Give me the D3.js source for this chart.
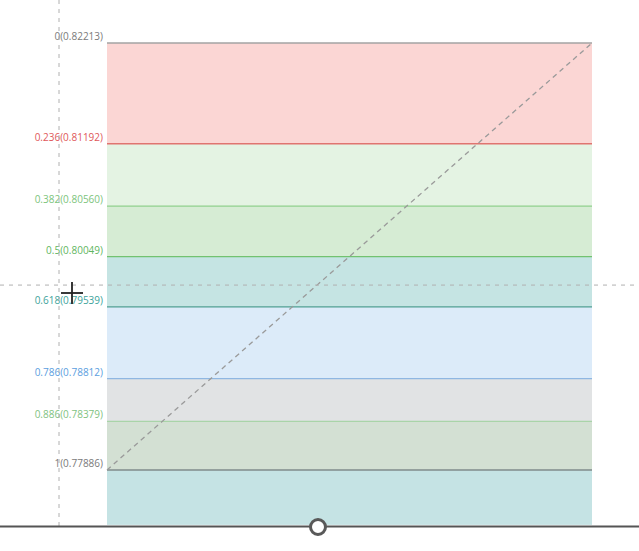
<!DOCTYPE html>
<html>
<head>
<meta charset="utf-8">
<script src="https://cdn.jsdelivr.net/npm/d3@7/dist/d3.min.js"></script>
<style>
  html, body { margin: 0; padding: 0; background: #ffffff; }
  svg { display: block; }
</style>
</head>
<body>
<svg id="chart" width="639" height="551"></svg>
<script>
// ---- data ----
const levels = [0, 0.236, 0.382, 0.5, 0.618, 0.786, 0.886, 1];
const prices = [0.82213, 0.81192, 0.80560, 0.80049, 0.79539, 0.78812, 0.78379, 0.77886];
const levelLabels = ["0", "0.236", "0.382", "0.5", "0.618", "0.786", "0.886", "1"];
const lineColors = ["#a3a3a3", "#e07470", "#8fd08c", "#72c270", "#4f9f92", "#8fb7e2", "#a9d4a8", "#7f8b8b"];
const labelColors = ["#7a7a7a", "#e0575a", "#7cc47c", "#5fb65f", "#3da39b", "#5b9ee0", "#7fc27f", "#7a7a7a"];
// band fill below each level (last band continues past the visible area)
const bandFills = ["#fbd6d4", "#e4f3e3", "#d6ecd4", "#c5e4e3", "#dcebf9", "#e1e3e4", "#d3e0d3", "#c5e3e4"];
const extendedPrice = 0.77330; // price where the view cuts the last band (estimated)
const crosshairPrice = 0.79760;

// ---- scales ----
const svg = d3.select("#chart");
const y = d3.scaleLinear().domain([prices[0], prices[prices.length - 1]]).range([43, 470]);
const x = d3.scaleLinear().domain([0, 1]).range([107, 592]);

const bandEdges = prices.concat([extendedPrice]);

// bands
svg.append("g").selectAll("rect")
  .data(bandFills)
  .join("rect")
  .attr("x", x(0))
  .attr("width", x(1) - x(0))
  .attr("y", (d, i) => y(bandEdges[i]))
  .attr("height", (d, i) => y(bandEdges[i + 1]) - y(bandEdges[i]))
  .attr("fill", d => d);

// level lines
svg.append("g").selectAll("line")
  .data(prices)
  .join("line")
  .attr("x1", x(0)).attr("x2", x(1))
  .attr("y1", d => y(d)).attr("y2", d => y(d))
  .attr("stroke", (d, i) => lineColors[i])
  .attr("stroke-width", 1.3);

// labels
svg.append("g").selectAll("text")
  .data(prices)
  .join("text")
  .attr("x", x(0) - 4)
  .attr("y", d => y(d) - 3)
  .attr("text-anchor", "end")
  .attr("font-family", "'Open Sans', sans-serif")
  .attr("font-size", 10)
  .attr("fill", (d, i) => labelColors[i])
  .text((d, i) => levelLabels[i] + "(" + d.toFixed(5) + ")");

// diagonal trend line
svg.append("line")
  .attr("x1", x(0)).attr("y1", y(prices[prices.length - 1]))
  .attr("x2", x(1)).attr("y2", y(prices[0]))
  .attr("stroke", "#9a9a9a")
  .attr("stroke-width", 1.3)
  .attr("stroke-dasharray", "5,4");

// crosshair dashed guides
svg.append("line")
  .attr("x1", 59).attr("x2", 59).attr("y1", 0).attr("y2", 526)
  .attr("stroke", "#b0b0b0").attr("stroke-width", 1).attr("stroke-dasharray", "4,5");
svg.append("line")
  .attr("x1", 0).attr("x2", 639).attr("y1", y(crosshairPrice)).attr("y2", y(crosshairPrice))
  .attr("stroke", "#b0b0b0").attr("stroke-width", 1).attr("stroke-dasharray", "4,5");

// cursor cross
const cx = 72, cy = 293;
svg.append("line").attr("x1", cx - 11).attr("x2", cx + 11).attr("y1", cy).attr("y2", cy)
  .attr("stroke", "#222").attr("stroke-width", 1.8);
svg.append("line").attr("x1", cx).attr("x2", cx).attr("y1", cy - 11).attr("y2", cy + 11)
  .attr("stroke", "#222").attr("stroke-width", 1.8);

// bottom bar and handle
svg.append("rect").attr("x", 0).attr("y", 527).attr("width", 639).attr("height", 24).attr("fill", "#ffffff");
svg.append("line").attr("x1", 0).attr("x2", 639).attr("y1", 526.5).attr("y2", 526.5)
  .attr("stroke", "#555").attr("stroke-width", 1.8);
svg.append("circle").attr("cx", 318).attr("cy", 527).attr("r", 7.5)
  .attr("fill", "#ffffff").attr("stroke", "#595959").attr("stroke-width", 3);
</script>
</body>
</html>
